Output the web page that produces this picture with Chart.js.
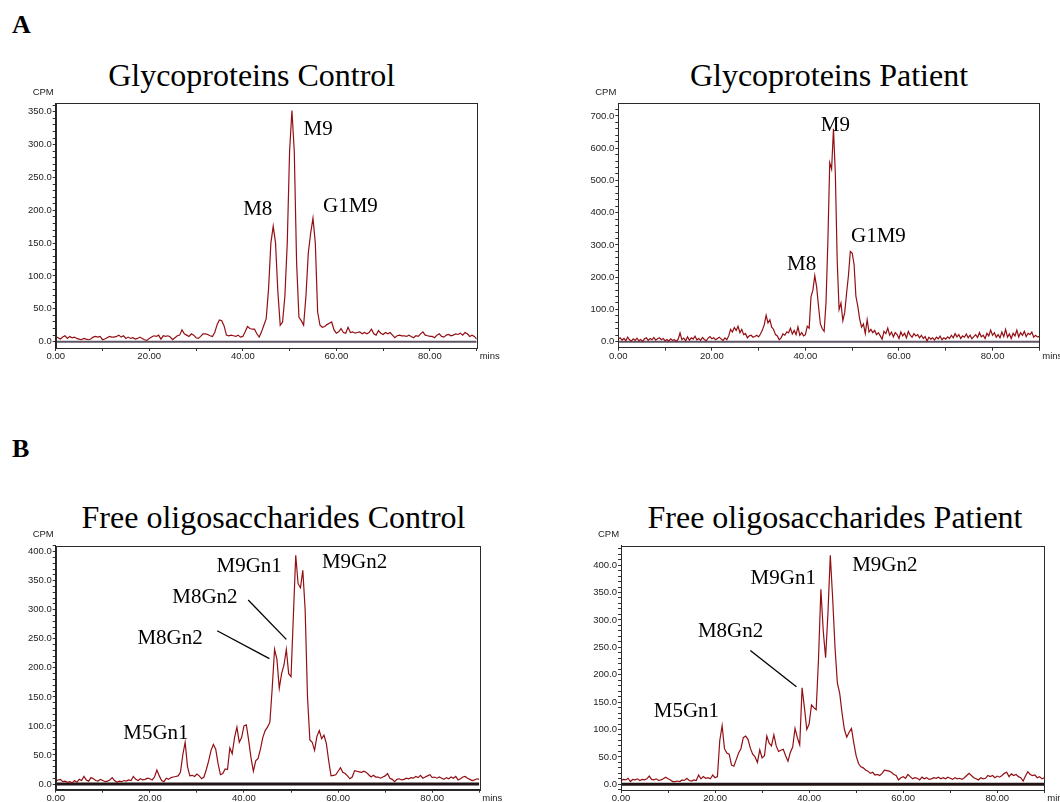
<!DOCTYPE html>
<html>
<head>
<meta charset="utf-8">
<script src="https://cdn.jsdelivr.net/npm/chart.js@4.4.0/dist/chart.umd.min.js"></script>
<style>
  body { margin: 0; width: 1060px; height: 802px; overflow: hidden; background: #fff; position: relative; }
  canvas { position: absolute; }
  .title { position: absolute; font-family: "Liberation Serif", "Times New Roman", serif; font-size: 32px; line-height: 32px; white-space: nowrap; transform: translateX(-50%); color: #000; }
  .panel { position: absolute; font-family: "Liberation Serif", "Times New Roman", serif; font-weight: bold; font-size: 26px; line-height: 26px; color: #000; }
</style>
</head>
<body>
<div class="panel" style="left:12px; top:11.5px">A</div>
<div class="panel" style="left:12px; top:435.5px">B</div>
<div class="title" style="left:251.7px; top:59px">Glycoproteins Control</div>
<div class="title" style="left:829px; top:59px">Glycoproteins Patient</div>
<div class="title" style="left:273.5px; top:500.5px">Free oligosaccharides Control</div>
<div class="title" style="left:835px; top:500.5px">Free oligosaccharides Patient</div>

<canvas id="glycoControl" width="530" height="300" style="left:0; top:80px"></canvas>
<canvas id="glycoPatient" width="500" height="300" style="left:560px; top:80px"></canvas>
<canvas id="freeControl" width="530" height="300" style="left:0; top:520px"></canvas>
<canvas id="freePatient" width="500" height="300" style="left:560px; top:520px"></canvas>

<script>
// CPM readings, one value per sampling step (in mins), starting at 0.00
const glycoControlStep = 0.5;
const glycoControlCpm = [
  8, 6, 4, 7, 9, 5, 8, 6, 7, 5,            // 0
  4, 3, 5, 4, 3, 4, 7, 8, 7, 8,            // 5
  3, 4, 6, 8, 7, 7, 8, 10, 7, 9,           // 10
  5, 7, 5, 6, 4, 5, 7, 5, 3, 2,            // 15
  5, 7, 9, 8, 10, 4, 9, 8, 9, 7,           // 20
  3, 6, 9, 10, 18, 12, 10, 8, 12, 10,      // 25
  6, 5, 8, 12, 12, 11, 9, 8, 14, 26,       // 30
  33, 32, 24, 10, 9, 10, 9, 8, 10, 7,      // 35
  8, 15, 23, 20, 19, 19, 12, 7, 15, 25,    // 40
  35, 80, 150, 176, 150, 75, 25, 30, 70, 150,      // 45
  290, 352, 290, 120, 37, 32, 25, 70, 135, 165,    // 50
  188, 150, 45, 25, 22, 23, 26, 28, 30, 18,        // 55
  13, 15, 20, 14, 13, 22, 14, 15, 13, 14,  // 60
  15, 12, 14, 12, 14, 19, 12, 10, 17, 13,  // 65
  11, 14, 12, 14, 10, 6, 9, 10, 9, 9,      // 70
  8, 10, 8, 6, 9, 8, 12, 15, 10, 9,        // 75
  8, 8, 6, 10, 12, 8, 7, 10, 11, 9,        // 80
  10, 12, 11, 13, 10, 14, 12, 8, 10, 8,    // 85
  4
];

const glycoPatientStep = 0.4;
const glycoPatientCpm = [
  8, 12, 5, 10, 3, 14, 6, 2, 9, 4,         // 0
  11, 3, 7, 1, 9, 12, 4, 10, 6, 13,        // 4
  5, 9, 12, 6, 10, 3, 7, 2, 9, 4,          // 8
  6, 1, 8, 27, 6, 11, 3, 15, 5, 12,        // 12
  8, 17, 6, 10, 4, 13, 7, 3, 11, 16,       // 16
  9, 12, 6, 10, 14, 8, 4, 12, 6, 18,       // 20
  38, 30, 44, 35, 48, 28, 38, 22, 25, 12,  // 24
  18, 20, 14, 16, 20, 15, 24, 36, 52, 82,  // 28
  58, 68, 45, 38, 22, 18, 6, 12, 24, 20,   // 32
  30, 28, 42, 24, 35, 22, 46, 20, 28, 18,  // 36
  22, 48, 42, 140, 160, 205, 170, 110, 55, 40,     // 40
  32, 120, 310, 555, 535, 660, 520, 250, 100, 120, // 44
  65, 90, 150, 205, 280, 275, 240, 140, 110, 70,   // 48
  45, 55, 25, 68, 30, 38, 28, 35, 22, 28,  // 52
  18, 8, 32, 25, 42, 20, 30, 15, 28, 22,   // 56
  10, 30, 18, 26, 12, 32, 20, 14, 25, 18,  // 60
  22, 12, 20, 10, 16, 2, 14, 8, 12, 5,     // 64
  14, 9, 17, 6, 12, 8, 15, 10, 20, 12,     // 68
  25, 15, 22, 10, 18, 14, 24, 12, 20, 9,   // 72
  16, 22, 13, 28, 15, 20, 10, 26, 18, 36,  // 76
  20, 28, 14, 22, 12, 30, 16, 38, 14, 24,  // 80
  10, 26, 18, 36, 15, 28, 20, 32, 16, 26,  // 84
  22, 30, 14, 20, 15, 16                   // 88
];

const freeControlStep = 0.5;
const freeControlCpm = [
  5, 7, 8, 4, 5, 3, 4, 2, 6, 3,            // 0
  8, 6, 13, 7, 5, 11, 9, 6, 5, 8,          // 5
  6, 4, 5, 7, 11, 6, 3, 5, 4, 6,           // 10
  5, 7, 6, 13, 8, 6, 9, 7, 8, 10,          // 15
  9, 7, 12, 24, 14, 6, 4, 10, 8, 11,       // 20
  12, 13, 14, 20, 50, 72, 30, 14, 15, 13,  // 25
  17, 14, 9, 12, 25, 40, 58, 68, 60, 35,   // 30
  16, 18, 26, 25, 62, 52, 80, 98, 72, 80,  // 35
  100, 102, 75, 45, 22, 40, 44, 60, 80, 92,        // 40
  98, 106, 165, 232, 215, 165, 190, 205, 232, 190, // 45
  185, 290, 394, 345, 338, 368, 300, 150, 76, 72,  // 50
  58, 82, 92, 78, 84, 70, 40, 14, 15, 16,  // 55
  22, 28, 20, 18, 14, 9, 12, 23, 22, 21,   // 60
  20, 22, 20, 16, 12, 15, 12, 12, 10, 12,  // 65
  14, 18, 10, 8, 4, 8, 9, 7, 8, 10,        // 70
  9, 11, 10, 13, 11, 15, 10, 12, 14, 16,   // 75
  11, 12, 10, 12, 10, 8, 11, 9, 12, 10,    // 80
  13, 7, 9, 12, 13, 10, 8, 6, 7, 9,        // 85
  8
];

const freePatientStep = 0.5;
const freePatientCpm = [
  7, 9, 8, 11, 5, 9, 8, 10, 7, 9,          // 0
  8, 10, 15, 9, 8, 10, 7, 8, 10, 13,       // 5
  10, 8, 5, 5, 6, 5, 8, 7, 11, 7,          // 10
  6, 8, 7, 17, 10, 14, 11, 12, 10, 17,     // 15
  12, 14, 80, 107, 65, 57, 55, 35, 33, 45, // 20
  57, 65, 85, 88, 82, 66, 55, 50, 40, 63,  // 25
  48, 52, 88, 75, 70, 90, 70, 60, 62, 64,  // 30
  52, 42, 58, 68, 102, 85, 72, 176, 140, 100,      // 35
  110, 145, 140, 136, 230, 356, 280, 231, 312, 418, // 40
  340, 250, 185, 166, 130, 100, 86, 95, 102, 75,   // 45
  52, 38, 32, 30, 26, 24, 20, 22, 17, 18,  // 50
  16, 20, 26, 25, 24, 22, 18, 16, 8, 12,   // 55
  14, 11, 18, 14, 10, 12, 11, 8, 13, 10,   // 60
  12, 9, 10, 12, 11, 13, 10, 12, 10, 13,   // 65
  11, 9, 12, 10, 11, 9, 12, 16, 20, 16,    // 70
  12, 10, 8, 12, 10, 11, 16, 14, 16, 12,   // 75
  15, 13, 16, 20, 22, 14, 19, 16, 18, 14,  // 80
  12, 6, 15, 23, 18, 16, 17, 12, 14, 10,   // 85
  12
];

// peak names: [label, mins, CPM] where the text sits
const glycoControlPeaks = [['M8', 43.2, 201], ['M9', 56.1, 323], ['G1M9', 63.0, 206]];
const glycoPatientPeaks = [['M8', 39.2, 238], ['M9', 46.4, 669], ['G1M9', 55.6, 326]];
const freeControlPeaks = [['M5Gn1', 21.3, 87], ['M8Gn2', 24.3, 251], ['M8Gn2', 31.7, 321], ['M9Gn1', 41.1, 374], ['M9Gn2', 63.5, 381]];
const freePatientPeaks = [['M5Gn1', 13.9, 132], ['M8Gn2', 23.3, 278], ['M9Gn1', 34.5, 376], ['M9Gn2', 56.1, 400]];
// pointer lines: [mins1, CPM1, mins2, CPM2]
const freeControlLeaders = [[34.3, 264, 45.4, 216], [40.9, 317, 49.0, 249]];
const freePatientLeaders = [[27.5, 244, 37.3, 178]];

const xMax = 90;
const xTickStep = 10;
const xLabelStep = 20;

const chromDecor = {
  id: 'chromDecor',
  afterDraw(chart, args, opts) {
    const { ctx, chartArea: a, scales: { x, y } } = chart;
    ctx.save();
    ctx.strokeStyle = '#2b2b2b';
    ctx.lineWidth = 1;
    ctx.strokeRect(Math.round(a.left) + 0.5, Math.round(a.top) + 0.5,
      Math.round(a.right - a.left), Math.round(a.bottom - a.top));

    ctx.fillStyle = '#222';
    ctx.font = '9.5px "Liberation Sans", Arial, sans-serif';
    ctx.textBaseline = 'middle';
    ctx.textAlign = 'center';
    ctx.fillText('CPM', a.left - 12.5, a.top - 11);
    ctx.textAlign = 'left';
    ctx.fillText('mins', a.right + 3, a.bottom + 8.5);

    ctx.strokeStyle = '#000';
    ctx.lineWidth = 1.3;
    (opts.leaders || []).forEach(([t1, v1, t2, v2]) => {
      ctx.beginPath();
      ctx.moveTo(x.getPixelForValue(t1), y.getPixelForValue(v1));
      ctx.lineTo(x.getPixelForValue(t2), y.getPixelForValue(v2));
      ctx.stroke();
    });

    ctx.fillStyle = '#000';
    ctx.font = '21px "Liberation Serif", "Times New Roman", serif';
    ctx.textAlign = 'center';
    (opts.peaks || []).forEach(([name, t, v]) => {
      ctx.fillText(name, x.getPixelForValue(t), y.getPixelForValue(v));
    });
    ctx.restore();
  }
};

function drawChromatogram(cfg) {
  const points = cfg.values.map((v, i) => ({ x: i * cfg.step, y: v }));
  const onLabel = (v, step) => v >= 0 && Math.abs(v / step - Math.round(v / step)) < 1e-6;
  return new Chart(document.getElementById(cfg.id), {
    type: 'line',
    data: {
      datasets: [{
        data: points,
        borderColor: '#920f14',
        borderWidth: 1.2,
        pointRadius: 0,
        tension: 0,
        fill: false
      }, {
        data: [{ x: 0, y: 0 }, { x: xMax, y: 0 }],
        borderColor: cfg.baseColor,
        borderWidth: cfg.baseWidth,
        pointRadius: 0
      }]
    },
    options: {
      responsive: false,
      animation: false,
      devicePixelRatio: 1,
      events: [],
      layout: { padding: cfg.padding },
      plugins: {
        legend: { display: false },
        tooltip: { enabled: false },
        chromDecor: { peaks: cfg.peaks, leaders: cfg.leaders }
      },
      scales: {
        x: {
          type: 'linear',
          min: 0,
          max: xMax,
          afterFit: s => { s.height = 20; },
          grid: { drawOnChartArea: false, drawTicks: true, tickLength: 3, color: '#333' },
          border: { display: true, color: '#222', width: 1 },
          ticks: {
            stepSize: xTickStep,
            includeBounds: false,
            autoSkip: false,
            maxRotation: 0,
            padding: 0,
            color: '#222',
            font: { family: '"Liberation Sans", Arial, sans-serif', size: 9.5 },
            callback: v => onLabel(v, xLabelStep) ? v.toFixed(2) : ''
          }
        },
        y: {
          min: cfg.yMin,
          max: cfg.yMax,
          afterFit: s => { s.width = 48; },
          grid: { drawOnChartArea: false, drawTicks: true, tickLength: 3, color: '#333' },
          border: { display: true, color: '#222', width: 1 },
          ticks: {
            stepSize: cfg.yStep,
            includeBounds: false,
            autoSkip: false,
            padding: 1,
            color: '#222',
            font: { family: '"Liberation Sans", Arial, sans-serif', size: 9.5 },
            callback: v => onLabel(v, cfg.yLabelStep) ? v.toFixed(1) : ''
          }
        }
      }
    },
    plugins: [chromDecor]
  });
}

drawChromatogram({
  id: 'glycoControl', values: glycoControlCpm, step: glycoControlStep,
  yMin: -9.6, yMax: 363.3, yStep: 10, yLabelStep: 50,
  padding: { left: 7.7, right: 53.3, top: 23, bottom: 12 },
  peaks: glycoControlPeaks, leaders: [],
  baseColor: '#5f5566', baseWidth: 2
});
drawChromatogram({
  id: 'glycoPatient', values: glycoPatientCpm, step: glycoPatientStep,
  yMin: -18.6, yMax: 739, yStep: 20, yLabelStep: 100,
  padding: { left: 10.3, right: 20.7, top: 23.3, bottom: 12.3 },
  peaks: glycoPatientPeaks, leaders: [],
  baseColor: '#5f5566', baseWidth: 2
});
drawChromatogram({
  id: 'freeControl', values: freeControlCpm, step: freeControlStep,
  yMin: -9.8, yMax: 410.4, yStep: 10, yLabelStep: 50,
  padding: { left: 7.7, right: 50.7, top: 25.7, bottom: 10.3 },
  peaks: freeControlPeaks, leaders: freeControlLeaders,
  baseColor: '#221414', baseWidth: 3
});
drawChromatogram({
  id: 'freePatient', values: freePatientCpm, step: freePatientStep,
  yMin: -10.4, yMax: 435.4, yStep: 10, yLabelStep: 50,
  padding: { left: 13, right: 15.7, top: 25.7, bottom: 10 },
  peaks: freePatientPeaks, leaders: freePatientLeaders,
  baseColor: '#221414', baseWidth: 3
});
</script>
</body>
</html>
